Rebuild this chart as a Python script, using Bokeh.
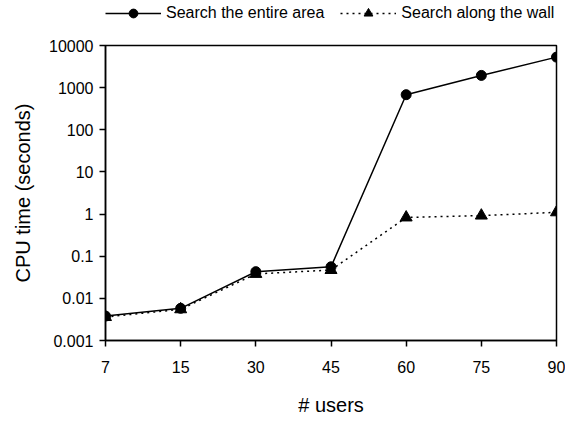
from bokeh.plotting import figure
from bokeh.layouts import column
from bokeh.models import Range1d, FixedTicker, Legend, LegendItem
from bokeh.embed import file_html
from bokeh.resources import INLINE

users = ["7", "15", "30", "45", "60", "75", "90"]
entire_area = [0.0038, 0.0058, 0.043, 0.056, 680, 1950, 5300]
along_wall = [0.0036, 0.0055, 0.038, 0.047, 0.83, 0.92, 1.1]
y_ticks = [0.001, 0.01, 0.1, 1, 10, 100, 1000, 10000]
y_labels = ["0.001", "0.01", "0.1", "1", "10", "100", "1000", "10000"]
series_names = ["Search the entire area", "Search along the wall"]

xs = list(range(len(users)))
FONT = "Liberation Sans"
W = 565
LEG_H = 30


def draw_series(fig):
    r = [fig.line(xs, entire_area, line_color="black", line_width=1.5),
         fig.scatter(xs, entire_area, marker="circle", size=10, color="black"),
         fig.line(xs, along_wall, line_color="black", line_width=1.5, line_dash="2 4"),
         fig.scatter(xs, along_wall, marker="triangle", size=12, color="black")]
    return r


# legend strip on top (its renderers are hidden; only their legend keys are shown)
lg = figure(width=W, height=LEG_H, output_backend="svg", toolbar_location=None,
            x_axis_location=None, y_axis_location=None,
            min_border_left=0, min_border_right=0, min_border_top=0, min_border_bottom=0)
lg.grid.visible = False
lg.outline_line_color = None
k = draw_series(lg)
for r in k:
    r.visible = False
legend = Legend(items=[LegendItem(label=series_names[0], renderers=[k[0], k[1]]),
                       LegendItem(label=series_names[1], renderers=[k[2], k[3]])],
                orientation="horizontal", location=(0, 6),
                glyph_width=56, glyph_height=22, spacing=16, padding=0, margin=0,
                label_standoff=5, label_text_font=FONT, label_text_font_size="16px",
                label_text_color="black",
                inactive_fill_alpha=0, border_line_color=None, background_fill_alpha=0)
lg.add_layout(legend, "center")

p = figure(width=W, height=418 - LEG_H, y_axis_type="log",
           x_range=Range1d(0, len(users) - 1), y_range=Range1d(0.001, 10000),
           output_backend="svg", toolbar_location=None,
           min_border_left=105, min_border_top=45 - LEG_H, min_border_right=9, min_border_bottom=73)
p.grid.visible = False
p.outline_line_color = "black"
p.outline_line_width = 1.5
p.background_fill_color = "white"
p.border_fill_color = "white"
draw_series(p)

for ax in (p.xaxis, p.yaxis):
    ax.axis_line_width = 1.5
    ax.axis_line_color = "black"
    ax.major_tick_line_width = 1.5
    ax.major_tick_line_color = "black"
    ax.major_tick_in = 0
    ax.major_tick_out = 6
    ax.minor_tick_line_color = None
    ax.major_label_text_font = FONT
    ax.major_label_text_font_size = "16px"
    ax.major_label_text_color = "black"
    ax.axis_label_text_font = FONT
    ax.axis_label_text_font_size = "20px"
    ax.axis_label_text_font_style = "normal"
    ax.axis_label_text_color = "black"

p.xaxis.ticker = FixedTicker(ticks=xs)
p.xaxis.major_label_overrides = {i: u for i, u in enumerate(users)}
p.xaxis.axis_label = "# users"
p.xaxis.major_label_standoff = 14
p.xaxis.axis_label_standoff = 18

p.yaxis.ticker = FixedTicker(ticks=y_ticks)
p.yaxis.major_label_overrides = {t: s for t, s in zip(y_ticks, y_labels)}
p.yaxis.axis_label = "CPU time (seconds)"
p.yaxis.major_label_standoff = 6
p.yaxis.axis_label_standoff = 12

layout = column(lg, p, spacing=0)
open("out.html", "w").write(file_html(layout, INLINE))
